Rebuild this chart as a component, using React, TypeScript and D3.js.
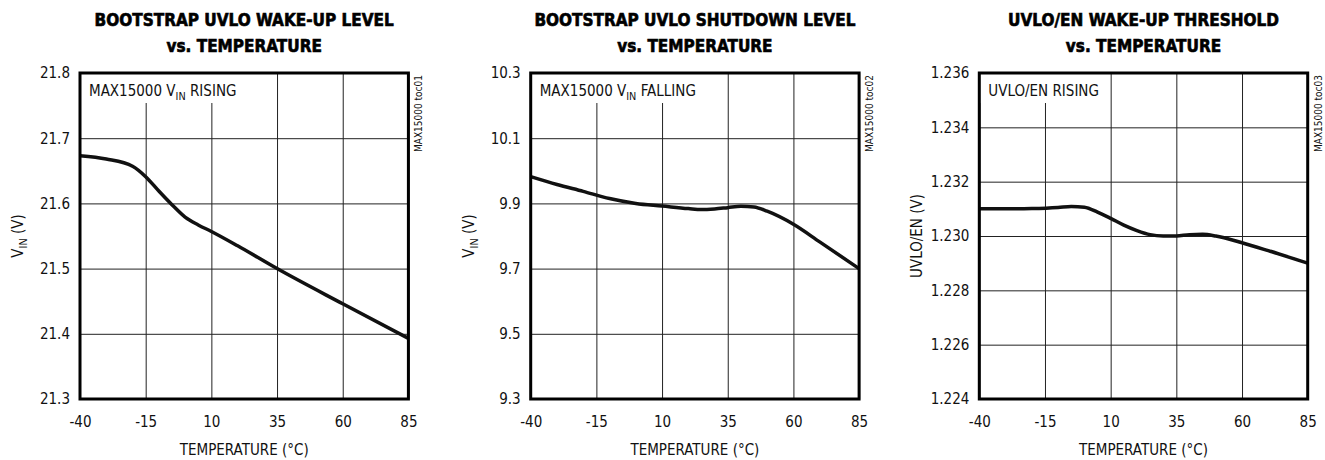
import * as d3 from 'd3';
import { useEffect, useRef } from 'react';

// temperature axis shared by all three plots
const tempTicks = [-40, -15, 10, 35, 60, 85];

// bootstrap UVLO wake-up level
const wakeTemps = [-40, -30, -20, -15, -10, -5, 0, 5, 10, 20, 35, 60, 85];
const wakeVin = [21.673, 21.668, 21.657, 21.641, 21.619, 21.598, 21.579, 21.567, 21.557, 21.535, 21.5, 21.446, 21.393];
const wakeTicks = [21.3, 21.4, 21.5, 21.6, 21.7, 21.8];

// bootstrap UVLO shutdown level
const shutdownTemps = [-40, -30, -20, -10, 0, 10, 20, 25, 30, 35, 40, 45, 50, 60, 70, 85];
const shutdownVin = [9.982, 9.958, 9.937, 9.915, 9.9, 9.892, 9.884, 9.881, 9.883, 9.887, 9.891, 9.889, 9.876, 9.836, 9.782, 9.7];
const shutdownTicks = [9.3, 9.5, 9.7, 9.9, 10.1, 10.3];

// UVLO/EN wake-up threshold
const uvloTemps = [-40, -30, -20, -10, -5, 0, 5, 10, 15, 20, 25, 30, 35, 40, 45, 50, 60, 70, 85];
const uvloVolts = [1.231, 1.231, 1.23101, 1.23105, 1.23109, 1.23106, 1.23088, 1.23065, 1.2304, 1.2302, 1.23005, 1.23, 1.23, 1.23005, 1.23006, 1.23, 1.22975, 1.22946, 1.229];
const uvloTicks = [1.224, 1.226, 1.228, 1.23, 1.232, 1.234, 1.236];

type Panel = {
  left: number;
  title: [string, string];
  temps: number[];
  values: number[];
  yTicks: number[];
  yFormat: string;
  note: string[];
  yLabel: string[];
  code: string;
};

const panels: Panel[] = [
  {
    left: 80,
    title: ['BOOTSTRAP UVLO WAKE-UP LEVEL', 'vs. TEMPERATURE'],
    temps: wakeTemps,
    values: wakeVin,
    yTicks: wakeTicks,
    yFormat: '.1f',
    note: ['MAX15000 V', 'IN', ' RISING'],
    yLabel: ['V', 'IN', ' (V)'],
    code: 'MAX15000 toc01',
  },
  {
    left: 530.7,
    title: ['BOOTSTRAP UVLO SHUTDOWN LEVEL', 'vs. TEMPERATURE'],
    temps: shutdownTemps,
    values: shutdownVin,
    yTicks: shutdownTicks,
    yFormat: '.1f',
    note: ['MAX15000 V', 'IN', ' FALLING'],
    yLabel: ['V', 'IN', ' (V)'],
    code: 'MAX15000 toc02',
  },
  {
    left: 979.3,
    title: ['UVLO/EN WAKE-UP THRESHOLD', 'vs. TEMPERATURE'],
    temps: uvloTemps,
    values: uvloVolts,
    yTicks: uvloTicks,
    yFormat: '.3f',
    note: ['UVLO/EN RISING'],
    yLabel: ['UVLO/EN (V)'],
    code: 'MAX15000 toc03',
  },
];

const FONT = '"DejaVu Sans Condensed", "DejaVu Sans", sans-serif';

// odd parts are subscripts
const addParts = (
  text: d3.Selection<SVGTextElement, unknown, null, undefined>,
  parts: string[],
) => {
  parts.forEach((p, i) => {
    const t = text.append('tspan').text(p);
    if (i % 2 === 1) t.attr('font-size', '0.72em').attr('dy', 4);
    else if (i > 0) t.attr('dy', -4);
  });
};

export default function App() {
  const ref = useRef<SVGSVGElement>(null);

  useEffect(() => {
    const svg = d3.select(ref.current);
    svg.selectAll('*').remove();

    const plotW = 328.4;
    const top = 73;
    const bottom = 399;
    const plotH = bottom - top;

    panels.forEach((p) => {
      const right = p.left + plotW;
      const cx = (p.left + right) / 2;
      const x = d3.scaleLinear().domain([-40, 85]).range([p.left, right]);
      const y = d3
        .scaleLinear()
        .domain([p.yTicks[0], p.yTicks[p.yTicks.length - 1]])
        .range([bottom, top]);

      const g = svg.append('g').style('font-family', FONT);

      //titles
      p.title.forEach((line, i) => {
        g.append('text')
          .attr('x', cx)
          .attr('y', 25.7 + i * 26)
          .attr('text-anchor', 'middle')
          .attr('font-size', 17)
          .attr('font-weight', 'bold')
          .attr('fill', '#000')
          .attr('stroke', '#000')
          .attr('stroke-width', 0.6)
          .text(line);
      });

      //x axis with grid
      g.append('g')
        .attr('transform', `translate(0,${bottom})`)
        .call(
          d3
            .axisBottom(x)
            .tickValues(tempTicks)
            .tickSize(-plotH)
            .tickPadding(17)
            .tickFormat((d) => String(d)),
        )
        .call((a) => {
          a.select('.domain').remove();
          a.selectAll('.tick line').attr('stroke', '#222');
          a.selectAll('.tick text').attr('font-size', 15).attr('fill', '#111').style('font-family', FONT);
        });

      //y axis with grid
      g.append('g')
        .attr('transform', `translate(${p.left},0)`)
        .call(
          d3
            .axisLeft(y)
            .tickValues(p.yTicks)
            .tickSize(-plotW)
            .tickPadding(10)
            .tickFormat((d) => d3.format(p.yFormat)(d as number)),
        )
        .call((a) => {
          a.select('.domain').remove();
          a.selectAll('.tick line').attr('stroke', '#222');
          a.selectAll('.tick text').attr('font-size', 15).attr('fill', '#111').style('font-family', FONT);
        });

      //note box in the top-left corner
      const noteBg = g.append('rect').attr('fill', '#fff');
      const note = g
        .append('text')
        .attr('x', p.left + 9)
        .attr('y', top + 23)
        .attr('font-size', 15)
        .attr('fill', '#111')
        .style('white-space', 'pre');
      addParts(note, p.note);
      const nb = (note.node() as SVGTextElement).getBBox();
      noteBg
        .attr('x', p.left)
        .attr('y', top)
        .attr('width', nb.x + nb.width - p.left + 6)
        .attr('height', 30);

      //curve
      const pts = p.temps.map((t, i) => [t, p.values[i]] as [number, number]);
      g.append('path')
        .datum(pts)
        .attr('fill', 'none')
        .attr('stroke', '#111')
        .attr('stroke-width', 3.5)
        .attr('stroke-linejoin', 'round')
        .attr(
          'd',
          d3
            .line<[number, number]>()
            .x((d) => x(d[0]))
            .y((d) => y(d[1]))
            .curve(d3.curveMonotoneX),
        );

      //frame
      g.append('rect')
        .attr('x', p.left)
        .attr('y', top)
        .attr('width', plotW)
        .attr('height', plotH)
        .attr('fill', 'none')
        .attr('stroke', '#000')
        .attr('stroke-width', 3);

      //axis titles
      g.append('text')
        .attr('x', cx)
        .attr('y', 455)
        .attr('text-anchor', 'middle')
        .attr('font-size', 15)
        .attr('fill', '#111')
        .text('TEMPERATURE (°C)');

      const yl = g
        .append('text')
        .attr('transform', `translate(${p.left - 57},${(top + bottom) / 2}) rotate(-90)`)
        .attr('text-anchor', 'middle')
        .attr('font-size', 15)
        .attr('fill', '#111')
        .style('white-space', 'pre');
      addParts(yl, p.yLabel);

      //figure code on the right
      g.append('text')
        .attr('transform', `translate(${right + 14},${top + 2}) rotate(-90)`)
        .attr('text-anchor', 'end')
        .attr('font-size', 10)
        .attr('fill', '#111')
        .text(p.code);
    });
  }, []);

  return (
    <svg
      ref={ref}
      width={1325}
      height={460}
      style={{ position: 'absolute', left: 0, top: 0, background: '#fff' }}
    />
  );
}
